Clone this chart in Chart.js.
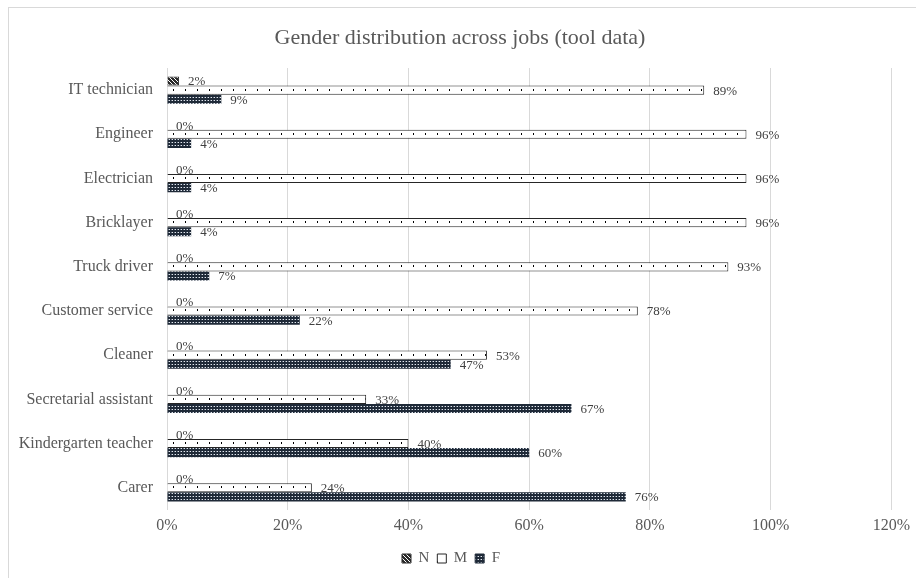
<!DOCTYPE html>
<html lang="en">
<head>
    <meta charset="UTF-8">
    <title>Gender distribution across jobs</title>
    <script src="https://cdn.jsdelivr.net/npm/chart.js"></script>
    <style>
        body { margin: 0; background: #fff; }
        #wrap { width: 916px; height: 578px; }
    </style>
</head>
<body>
<div id="wrap">
    <canvas id="jobsChart" width="916" height="578"></canvas>
</div>

<script>
// jobs, top to bottom
const jobs = ["IT technician", "Engineer", "Electrician", "Bricklayer", "Truck driver",
    "Customer service", "Cleaner", "Secretarial assistant", "Kindergarten teacher", "Carer"];

// share of each gender per job (%)
const nShare = [2, 0, 0, 0, 0, 0, 0, 0, 0, 0];
const mShare = [89, 96, 96, 96, 93, 78, 53, 33, 40, 24];
const fShare = [9, 4, 4, 4, 7, 22, 47, 67, 60, 76];

const xTicks = [0, 20, 40, 60, 80, 100, 120];

const chartTitle = "Gender distribution across jobs (tool data)";
const serif = "'Liberation Serif', 'Times New Roman', serif";

// small tiles used as bar fills
function makeTile(w, h, bg, draw) {
    const c = document.createElement("canvas");
    c.width = w; c.height = h;
    const g = c.getContext("2d");
    g.fillStyle = bg;
    g.fillRect(0, 0, w, h);
    draw(g);
    return c;
}
const scratch = document.createElement("canvas").getContext("2d");
const toPattern = tile => scratch.createPattern(tile, "repeat");

const stripes = toPattern(makeTile(4, 4, "#2a2a2a", g => {
    g.fillStyle = "#ffffff";
    for (let i = 0; i < 4; i++) g.fillRect(i, i, 1, 1);
}));

const dotTile = makeTile(12, 9, "#ffffff", g => {
    g.fillStyle = "#000000";
    g.fillRect(5, 3, 1, 2);
});
const dots = toPattern(dotTile);

const checks = toPattern(makeTile(3, 3, "#1f2a38", g => {
    g.fillStyle = "#e4e8ee";
    g.fillRect(1, 1, 1, 1);
    g.fillStyle = "#6d7887";
    g.fillRect(0, 1, 1, 1);
}));

// outer frame and title
const framePlugin = {
    id: "frame",
    beforeDraw(chart) {
        const ctx = chart.ctx;
        ctx.save();
        ctx.fillStyle = "#fff";
        ctx.fillRect(0, 0, chart.width, chart.height);
        ctx.strokeStyle = "#d9d9d9";
        ctx.lineWidth = 1;
        ctx.strokeRect(8.5, 7.5, chart.width + 20, chart.height + 20);
        ctx.font = "22px " + serif;
        ctx.fillStyle = "#595959";
        ctx.textAlign = "center";
        ctx.textBaseline = "middle";
        ctx.fillText(chartTitle, 460, 38);
        ctx.restore();
    }
};

// keep one row of dots inside every M bar
const alignDots = {
    id: "alignDots",
    beforeDatasetsDraw(chart) {
        const meta = chart.getDatasetMeta(1);
        meta.data.forEach(bar => {
            const p = toPattern(dotTile);
            const top = Math.round(bar.y - bar.height / 2);
            p.setTransform(new DOMMatrix([1, 0, 0, 1, 0, top]));
            bar.options.backgroundColor = p;
        });
    }
};

// value labels at the end of each bar
const valueLabels = {
    id: "valueLabels",
    afterDatasetsDraw(chart) {
        const ctx = chart.ctx;
        ctx.save();
        ctx.font = "13px " + serif;
        ctx.fillStyle = "#404040";
        ctx.textAlign = "left";
        ctx.textBaseline = "middle";
        chart.data.datasets.forEach((ds, i) => {
            const meta = chart.getDatasetMeta(i);
            meta.data.forEach((bar, j) => {
                ctx.fillText(ds.data[j] + "%", bar.x + 9, bar.y + 1);
            });
        });
        ctx.restore();
    }
};

new Chart(document.getElementById("jobsChart"), {
    type: "bar",
    data: {
        labels: jobs,
        datasets: [
            { label: "N", data: nShare, backgroundColor: stripes, borderColor: "#2a2a2a", borderWidth: 1 },
            // scriptable so every bar gets its own options object
            { label: "M", data: mShare, backgroundColor: () => dots, borderColor: "#262626", borderWidth: 1 },
            { label: "F", data: fShare, backgroundColor: checks, borderColor: "#1f2a38", borderWidth: 0 }
        ]
    },
    options: {
        indexAxis: "y",
        responsive: false,
        animation: false,
        devicePixelRatio: 1,
        datasets: {
            bar: { categoryPercentage: 0.62, barPercentage: 1 }
        },
        layout: { padding: { left: 10, right: 24, top: 68, bottom: 2 } },
        scales: {
            x: {
                min: 0,
                max: 120,
                afterBuildTicks: scale => { scale.ticks = xTicks.map(v => ({ value: v })); },
                afterFit: scale => { scale.height += 2; },
                grid: { color: "#d9d9d9", drawTicks: false },
                border: { display: false },
                ticks: {
                    padding: 6,
                    color: "#595959",
                    font: { family: serif, size: 16 },
                    callback: v => v + "%"
                }
            },
            y: {
                afterFit: scale => { scale.width = 157; },
                grid: { display: false, drawTicks: false },
                border: { color: "#d9d9d9" },
                ticks: {
                    padding: 14,
                    color: "#595959",
                    font: { family: serif, size: 16 }
                }
            }
        },
        plugins: {
            title: { display: false },
            legend: {
                position: "bottom",
                labels: {
                    boxWidth: 9,
                    boxHeight: 9,
                    padding: 8,
                    color: "#595959",
                    font: { family: serif, size: 15 },
                    generateLabels: chart => chart.data.datasets.map((ds, i) => ({
                        text: ds.label,
                        fillStyle: [stripes, dots, checks][i],
                        strokeStyle: ds.borderColor,
                        lineWidth: 1,
                        fontColor: "#595959",
                        datasetIndex: i
                    }))
                }
            },
            tooltip: { enabled: false }
        }
    },
    plugins: [framePlugin, alignDots, valueLabels]
});
</script>
</body>
</html>
